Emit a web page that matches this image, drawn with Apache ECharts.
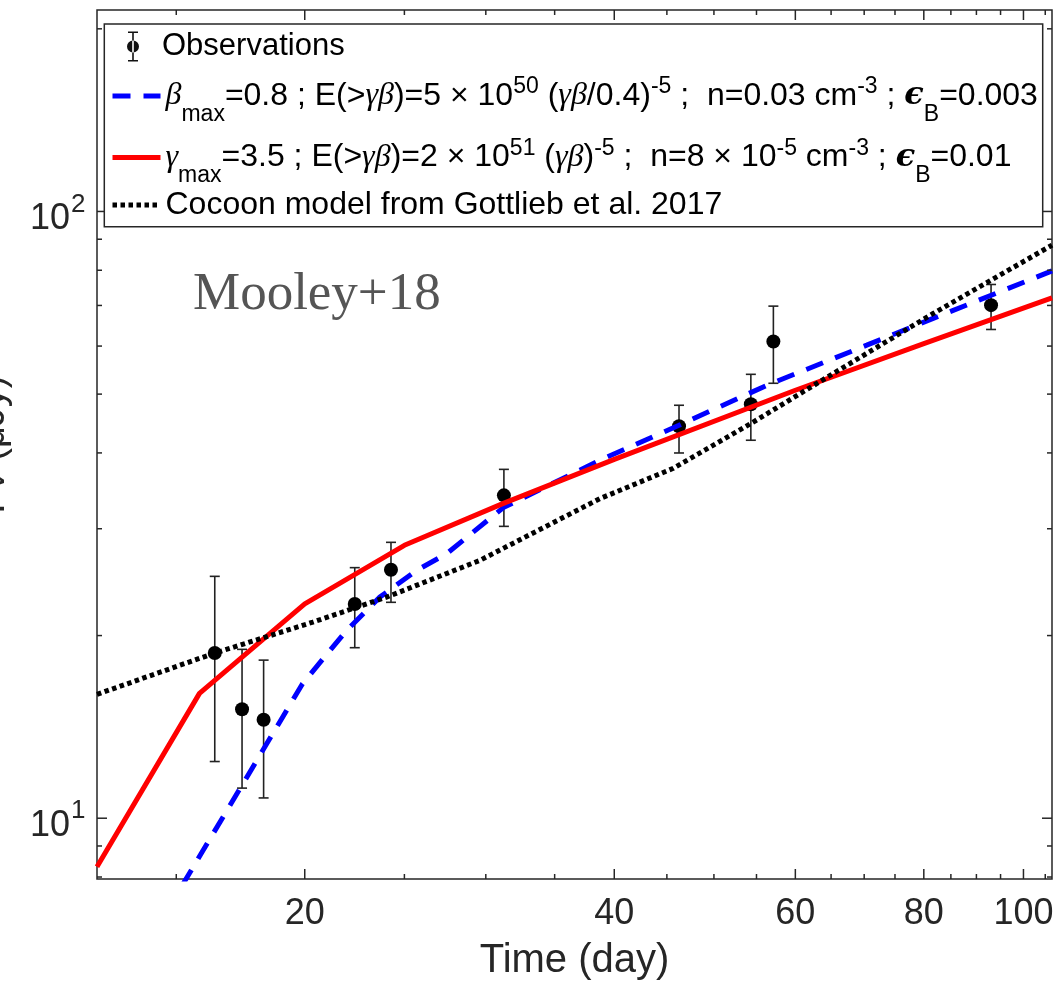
<!DOCTYPE html>
<html>
<head>
<meta charset="utf-8">
<script src="https://cdn.jsdelivr.net/npm/echarts@6/dist/echarts.min.js"></script>
<style>
html,body{margin:0;padding:0;background:#fff;}
#c{width:1056px;height:981px;}
</style>
</head>
<body>
<div id="c"></div>
<script>
// ---------- data ----------
const obsTime = [16.35, 17.38, 18.24, 22.37, 24.26, 31.24, 46.24, 54.31, 57.12, 93.0];
const obsFlux = [18.72, 15.12, 14.53, 22.54, 25.68, 34.05, 44.26, 48.11, 61.06, 70.08];
const obsLow  = [12.40, 11.21, 10.80, 19.10, 22.69, 30.27, 39.99, 41.97, 52.1, 63.9];
const obsHigh = [25.04, 18.98, 18.22, 25.88, 28.49, 37.58, 47.93, 53.9, 69.82, 75.8];

const betaTime = [15.2, 17.42, 19.9, 21.96, 23.66, 25.69, 27.48, 31.2, 38.73, 46.24, 56.3, 70.4, 81.7, 106.6];
const betaFlux = [7.75, 11.41, 16.66, 20.39, 23.14, 25.61, 27.29, 32.5, 38.9, 44.43, 51.71, 60.2, 66.64, 79.8];

const gammaTime = [12.56, 15.8, 20, 25, 31.2, 40, 60, 80, 106.6];
const gammaFlux = [8.32, 16.06, 22.55, 28.17, 33.03, 39.04, 50.74, 60.58, 72.07];

const cocoonTime = [12.56, 16.28, 20.37, 24.02, 29.6, 38.73, 45.6, 54.3, 65.3, 81.7, 106.6];
const cocoonFlux = [16.0, 18.67, 21.05, 23.14, 26.6, 33.63, 37.7, 44.71, 54.05, 67.9, 88.0];

const xMajorTicks = [20, 40, 60, 80, 100];
const xMinorTicks = [15, 25, 30, 35, 45, 50, 55, 65, 70, 75, 85, 90, 95, 105];
const yMajorTicks = [10, 100];
const yMajorExp   = ['1', '2'];
const yMinorTicks = [8, 9, 20, 30, 40, 50, 60, 70, 80, 90, 200];

const X_MIN = 12.56, X_MAX = 106.6, Y_MIN = 7.94, Y_MAX = 214.8;

// ---------- styling ----------
const AX = '#262626';
const FONT = '"Liberation Sans", Arial, Helvetica, sans-serif';
const GREEK = '"Liberation Serif", "DejaVu Serif", serif';

const zip = (a, b) => a.map((v, i) => [v, b[i]]);

const chart = echarts.init(document.getElementById('c'), null, {renderer: 'canvas', width: 1056, height: 981});

const OBS_ICON = 'path://M1,0H11V1.6H1Z M5.2,0H6.8V30H5.2Z M1,28.4H11V30H1Z M0,15A6,6,0,1,0,12,15A6,6,0,1,0,0,15Z';

const legendText = {
  'Observations': '{o|Observations}',
  'beta': '{gm|β}{sub|max}{m|=0.8 ; E(>}{gm|γβ}{m|)=5 × 10}{sup|50}{m| (}{gm|γβ}{m|/0.4)}{sup|-5}{m| ;  n=0.03 cm}{sup|-3}{m| ; }{em|ϵ}{sub|B}{m|=0.003}',
  'gamma': '{gm|γ}{sub|max}{m|=3.5 ; E(>}{gm|γβ}{m|)=2 × 10}{sup|51}{m| (}{gm|γβ}{m|)}{sup|-5}{m| ;  n=8 × 10}{sup|-5}{m| cm}{sup|-3}{m| ; }{em|ϵ}{sub|B}{m|=0.01}',
  'cocoon': '{m|Cocoon model from Gottlieb et al. 2017}'
};

const legendRich = {
  o: {fontSize: 31, fontFamily: FONT, color: '#000'},
  m: {fontSize: 32, fontFamily: FONT, color: '#000', lineHeight: 60},
  gm: {fontSize: 32, fontFamily: GREEK, fontStyle: 'italic', color: '#000', lineHeight: 60},
  em: {fontSize: 32, fontFamily: '"DejaVu Serif", serif', fontStyle: 'italic', fontWeight: 'bold', color: '#000', lineHeight: 60},
  sup: {fontSize: 23, fontFamily: FONT, color: '#000', verticalAlign: 'top', padding: [9.5, 0, 0, 0]},
  sub: {fontSize: 23, fontFamily: FONT, color: '#000', verticalAlign: 'bottom', padding: [0, 0, 0, 0]}
};

function makeLegend(name, left, top, itemHeight, extra) {
  return Object.assign({
    show: true, orient: 'vertical', left: left, top: top, padding: 0, itemGap: 0,
    itemWidth: 48, itemHeight: itemHeight, selectedMode: false, z: 10,
    formatter: n => legendText[n] || n,
    textStyle: {fontSize: 32, fontFamily: FONT, color: '#000', rich: legendRich}
  }, extra, {data: [name]});
}

function renderXTick(params, api) {
  const v = api.value(0);
  const major = api.value(2) === 1;
  const b = api.coord([v, Y_MIN]);
  const t = api.coord([v, Y_MAX]);
  const len = major ? 10 : 5;
  const children = [
    {type: 'line', shape: {x1: b[0], y1: b[1], x2: b[0], y2: b[1] - len}, style: {stroke: AX, lineWidth: 1.5}},
    {type: 'line', shape: {x1: t[0], y1: t[1], x2: t[0], y2: t[1] + len}, style: {stroke: AX, lineWidth: 1.5}}
  ];
  if (major) {
    children.push({type: 'text', style: {text: String(v), x: b[0], y: b[1] + 35, align: 'center', verticalAlign: 'middle',
      fontSize: 36, fontFamily: FONT, fill: AX}});
  }
  return {type: 'group', children};
}

function renderYTick(params, api) {
  const v = api.value(1);
  const major = api.value(2) === 1;
  const l = api.coord([X_MIN, v]);
  const r = api.coord([X_MAX, v]);
  const len = major ? 10 : 5;
  const children = [
    {type: 'line', shape: {x1: l[0], y1: l[1], x2: l[0] + len, y2: l[1]}, style: {stroke: AX, lineWidth: 1.5}},
    {type: 'line', shape: {x1: r[0], y1: r[1], x2: r[0] - len, y2: r[1]}, style: {stroke: AX, lineWidth: 1.5}}
  ];
  if (major) {
    const idx = yMajorTicks.indexOf(v);
    children.push({type: 'text', style: {text: '10', x: l[0] - 27, y: l[1] + 8, align: 'right', verticalAlign: 'middle',
      fontSize: 36, fontFamily: FONT, fill: AX}});
    children.push({type: 'text', style: {text: yMajorExp[idx], x: l[0] - 26, y: l[1] - 7, align: 'left', verticalAlign: 'middle',
      fontSize: 26, fontFamily: FONT, fill: AX}});
  }
  return {type: 'group', children};
}

const option = {
  backgroundColor: '#ffffff',
  animation: false,
  title: {
    text: 'Mooley+18', left: 193, top: 269, padding: 0,
    textStyle: {fontFamily: '"Liberation Serif", "Times New Roman", serif', fontSize: 53, fontWeight: 'normal', color: '#555555'}
  },
  grid: {left: 97, top: 10, width: 955, height: 869, show: true, borderColor: AX, borderWidth: 1.5,
    backgroundColor: 'transparent', containLabel: false, outerBoundsMode: 'none'},
  xAxis: {
    type: 'log', logBase: 10, min: X_MIN, max: X_MAX,
    axisLine: {show: false}, axisTick: {show: false}, axisLabel: {show: false}, splitLine: {show: false}, minorTick: {show: false},
    name: 'Time (day)', nameLocation: 'middle', nameGap: 62,
    nameTextStyle: {fontSize: 40, fontFamily: FONT, color: AX, verticalAlign: 'top'}
  },
  yAxis: {
    type: 'log', logBase: 10, min: Y_MIN, max: Y_MAX,
    axisLine: {show: false}, axisTick: {show: false}, axisLabel: {show: false}, splitLine: {show: false}, minorTick: {show: false},
    name: 'Fν (μJy)', nameLocation: 'middle', nameGap: 84, nameRotate: 90,
    nameTextStyle: {fontSize: 38, fontFamily: FONT, color: AX}
  },
  graphic: [{
    type: 'rect', z: 9, silent: true,
    shape: {x: 104.3, y: 24, width: 938.4, height: 202.7},
    style: {fill: '#ffffff', stroke: AX, lineWidth: 1.5}
  }],
  legend: [
    makeLegend('Observations', 127, 31, 30, {icon: OBS_ICON, itemStyle: {color: '#111111'}}),
    makeLegend('beta', 110, 72, 60, {lineStyle: {width: 5}, itemStyle: {opacity: 0}}),
    makeLegend('gamma', 110, 133.4, 60, {lineStyle: {width: 5}, itemStyle: {opacity: 0}}),
    makeLegend('cocoon', 110, 181, 60, {lineStyle: {width: 5}, itemStyle: {opacity: 0}})
  ],
  series: [
    {
      type: 'custom', name: 'obsErr', z: 2, silent: true,
      data: obsTime.map((t, i) => [t, obsLow[i], obsHigh[i]]),
      encode: {x: 0, y: [1, 2]},
      renderItem: (params, api) => {
        const lo = api.coord([api.value(0), api.value(1)]);
        const hi = api.coord([api.value(0), api.value(2)]);
        const w = 5;
        const st = {stroke: '#222222', lineWidth: 1.6};
        return {type: 'group', children: [
          {type: 'line', shape: {x1: lo[0], y1: lo[1], x2: hi[0], y2: hi[1]}, style: st},
          {type: 'line', shape: {x1: lo[0] - w, y1: lo[1], x2: lo[0] + w, y2: lo[1]}, style: st},
          {type: 'line', shape: {x1: hi[0] - w, y1: hi[1], x2: hi[0] + w, y2: hi[1]}, style: st}
        ]};
      }
    },
    {
      type: 'scatter', name: 'Observations', z: 3, silent: true,
      data: zip(obsTime, obsFlux), symbol: 'circle', symbolSize: 14,
      itemStyle: {color: '#000000', opacity: 1}
    },
    {
      type: 'line', name: 'beta', z: 4, silent: true, symbol: 'none', showSymbol: false, clip: true,
      data: zip(betaTime, betaFlux),
      lineStyle: {color: '#0000ff', width: 5, type: [18, 13], cap: 'butt'},
      itemStyle: {color: '#0000ff'}
    },
    {
      type: 'line', name: 'gamma', z: 5, silent: true, symbol: 'none', showSymbol: false, clip: true,
      data: zip(gammaTime, gammaFlux),
      lineStyle: {color: '#ff0000', width: 5, type: 'solid'},
      itemStyle: {color: '#ff0000'}
    },
    {
      type: 'line', name: 'cocoon', z: 6, silent: true, symbol: 'none', showSymbol: false, clip: true,
      data: zip(cocoonTime, cocoonFlux),
      lineStyle: {color: '#000000', width: 5, type: [4.5, 3.5], cap: 'butt'},
      itemStyle: {color: '#000000'}
    },
    {
      type: 'custom', name: 'xTicks', z: 7, silent: true, clip: false,
      data: xMajorTicks.map(v => [v, Y_MIN, 1]).concat(xMinorTicks.map(v => [v, Y_MIN, 0])),
      encode: {x: 0, y: 1},
      renderItem: renderXTick
    },
    {
      type: 'custom', name: 'yTicks', z: 7, silent: true, clip: false,
      data: yMajorTicks.map(v => [X_MIN, v, 1]).concat(yMinorTicks.map(v => [X_MIN, v, 0])),
      encode: {x: 0, y: 1},
      renderItem: renderYTick
    }
  ]
};

chart.setOption(option);
</script>
</body>
</html>
